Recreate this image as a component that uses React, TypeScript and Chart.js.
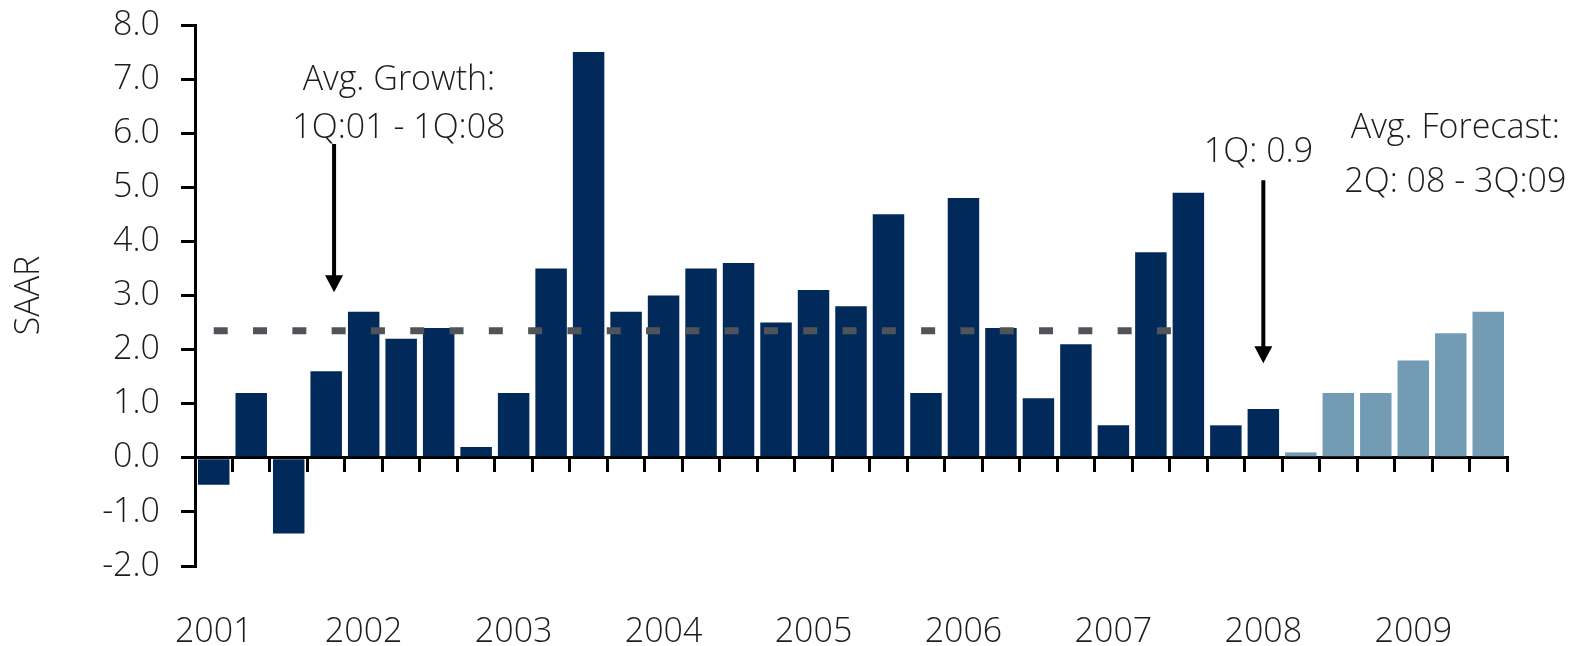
import React, { useEffect, useRef } from "react";
import { Chart, registerables } from "chart.js";

Chart.register(...registerables);

// Quarterly categories, 1Q01 .. 3Q09
const categories = [
  "1Q01", "2Q01", "3Q01", "4Q01",
  "1Q02", "2Q02", "3Q02", "4Q02",
  "1Q03", "2Q03", "3Q03", "4Q03",
  "1Q04", "2Q04", "3Q04", "4Q04",
  "1Q05", "2Q05", "3Q05", "4Q05",
  "1Q06", "2Q06", "3Q06", "4Q06",
  "1Q07", "2Q07", "3Q07", "4Q07",
  "1Q08", "2Q08", "3Q08", "4Q08",
  "1Q09", "2Q09", "3Q09",
];

// Year tick labels, shown under each year's first quarter
const yearLabels: Record<string, string> = {
  "1Q01": "2001", "1Q02": "2002", "1Q03": "2003", "1Q04": "2004", "1Q05": "2005",
  "1Q06": "2006", "1Q07": "2007", "1Q08": "2008", "1Q09": "2009",
};

// Growth, SAAR (%)
const growth = [
  -0.5, 1.2, -1.4, 1.6,
  2.7, 2.2, 2.4, 0.2,
  1.2, 3.5, 7.5, 2.7,
  3.0, 3.5, 3.6, 2.5,
  3.1, 2.8, 4.5, 1.2,
  4.8, 2.4, 1.1, 2.1,
  0.6, 3.8, 4.9, 0.6,
  0.9, 0.1, 1.2, 1.2,
  1.8, 2.3, 2.7,
];

// Forecast starts at this quarter
const forecastFrom = "2Q08";

// Average growth reference line
const avgGrowth = 2.35;
const avgFrom = "1Q01";
const avgTo = "3Q07";

// Y axis range
const yMin = -2;
const yMax = 8;
const yStep = 1;

// Text notes: x in category-index units, baselines in value units
const notes = [
  { lines: ["Avg. Growth:", "1Q:01 - 1Q:08"], at: 4.94, baselines: [6.8, 5.91] },
  { lines: ["1Q: 0.9"], at: 27.87, baselines: [5.47] },
  { lines: ["Avg. Forecast:", "2Q: 08 - 3Q:09"], at: 33.12, baselines: [5.91, 4.91] },
];

// Arrows: x in category-index units, from/to in value units
const arrows = [
  { at: 3.21, from: 5.8, to: 3.06 },
  { at: 28.0, from: 5.13, to: 1.75 },
];

const NAVY = "#012a5b";
const LIGHT = "#739cb4";
const TEXT = "#1c1c1c";
const FONT = '"Open Sans", "Noto Sans", sans-serif';

const notesPlugin = {
  id: "notes",
  afterDatasetsDraw(chart: any) {
    const { ctx, scales } = chart;
    const x = scales.x;
    const y = scales.y;
    const x0 = x.getPixelForValue(0);
    const step = x.getPixelForValue(1) - x0;
    const px = (i: number) => x0 + i * step;
    ctx.save();
    ctx.fillStyle = TEXT;
    ctx.font = `300 34px ${FONT}`;
    ctx.textAlign = "center";
    ctx.textBaseline = "alphabetic";
    notes.forEach((n) => {
      n.lines.forEach((t, k) => {
        ctx.fillText(t, px(n.at), y.getPixelForValue(n.baselines[k]));
      });
    });
    ctx.strokeStyle = "#000";
    ctx.fillStyle = "#000";
    ctx.lineWidth = 4;
    const headH = 17;
    const headW = 18;
    arrows.forEach((a) => {
      const ax = px(a.at);
      const top = y.getPixelForValue(a.from);
      const tip = y.getPixelForValue(a.to);
      ctx.beginPath();
      ctx.moveTo(ax, top);
      ctx.lineTo(ax, tip - headH + 1);
      ctx.stroke();
      ctx.beginPath();
      ctx.moveTo(ax - headW / 2, tip - headH);
      ctx.lineTo(ax + headW / 2, tip - headH);
      ctx.lineTo(ax, tip);
      ctx.closePath();
      ctx.fill();
    });
    ctx.restore();
  },
};

export default function App() {
  const canvasRef = useRef<HTMLCanvasElement | null>(null);

  useEffect(() => {
    if (!canvasRef.current) return;
    const forecastIdx = categories.indexOf(forecastFrom);
    const avgStart = categories.indexOf(avgFrom);
    const avgEnd = categories.indexOf(avgTo);
    const avgData = categories.map((_, i) => (i >= avgStart && i <= avgEnd ? avgGrowth : null));
    const barColors = categories.map((_, i) => (i >= forecastIdx ? LIGHT : NAVY));

    const chart = new Chart(canvasRef.current, {
      type: "bar",
      data: {
        labels: categories,
        datasets: [
          {
            type: "line",
            data: avgData,
            borderColor: "#50545a",
            borderWidth: 7,
            borderDash: [14, 25.3],
            borderCapStyle: "butt",
            pointRadius: 0,
            fill: false,
            order: 0,
          } as any,
          {
            type: "bar",
            data: growth,
            backgroundColor: barColors,
            borderWidth: 0,
            barPercentage: 0.84,
            categoryPercentage: 1.0,
            order: 1,
          },
        ],
      },
      options: {
        animation: false,
        responsive: true,
        maintainAspectRatio: false,
        layout: { padding: { top: 25, right: 66, left: 0, bottom: 0 } },
        plugins: {
          legend: { display: false },
          tooltip: { enabled: false },
        },
        scales: {
          x: {
            type: "category",
            position: "bottom",
            offset: true,
            grid: { display: false, drawTicks: false },
            border: { display: false },
            ticks: {
              autoSkip: false,
              maxRotation: 0,
              minRotation: 0,
              padding: 46,
              color: TEXT,
              font: { family: FONT, size: 34, weight: "300" as any },
              callback: (_v: any, i: number) => yearLabels[categories[i]] || "",
            },
            afterFit: (scale: any) => {
              scale.height = 80;
              scale.paddingLeft = 0;
              scale.paddingRight = 0;
            },
          },
          x2: {
            type: "category",
            axis: "x",
            labels: categories,
            position: { y: 0 } as any,
            offset: true,
            grid: {
              offset: true,
              drawOnChartArea: false,
              drawTicks: true,
              tickLength: 13,
              color: "#000",
              lineWidth: 3,
            },
            border: { display: true, color: "#000", width: 3 },
            ticks: { display: false },
          } as any,
          y: {
            type: "linear",
            position: "left",
            min: yMin,
            max: yMax,
            ticks: {
              stepSize: yStep,
              padding: 21,
              color: TEXT,
              font: { family: FONT, size: 34, weight: "300" as any },
              callback: (v: any) => Number(v).toFixed(1),
            },
            grid: {
              drawOnChartArea: false,
              drawTicks: true,
              tickLength: 14,
              color: "#000",
              lineWidth: 3,
            },
            border: { display: true, color: "#000", width: 3 },
            title: {
              display: true,
              text: "SAAR",
              color: TEXT,
              font: { family: FONT, size: 34, weight: "300" as any },
              padding: { top: 9, bottom: 0 },
            },
            afterFit: (scale: any) => {
              scale.width = 195;
              scale.paddingTop = 0;
              scale.paddingBottom = 0;
            },
          },
        },
      },
      plugins: [notesPlugin],
    });
    return () => chart.destroy();
  }, []);

  return (
    <div style={{ position: "fixed", left: 0, top: 0, width: 1573, height: 646, background: "#fff" }}>
      <canvas ref={canvasRef} />
    </div>
  );
}
